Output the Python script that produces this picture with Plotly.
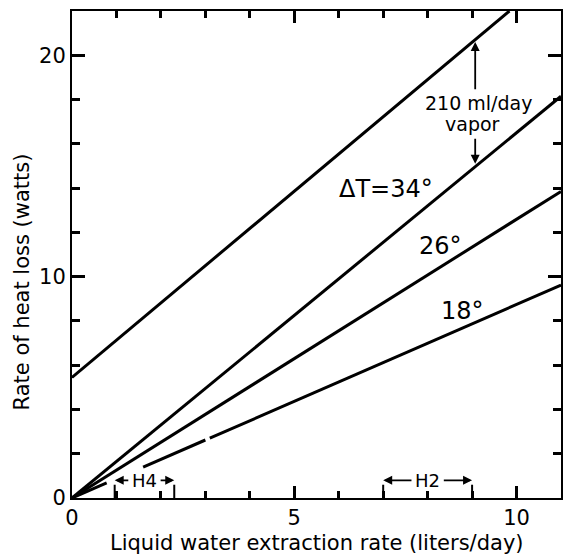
import plotly.graph_objects as go

# Liquid water extraction rate (liters/day)
x_34 = [0.0, 11.0]
y_34 = [0.0, 18.15]          # ΔT = 34°
x_26 = [0.0, 11.0]
y_26 = [0.0, 13.85]          # ΔT = 26°
x_18 = [0.0, 0.78, None, 1.6, 3.0, None, 3.1, 11.0]
y_18 = [0.0, 0.68, None, 1.40, 2.62, None, 2.70, 9.62]   # ΔT = 18°
x_vap = [0.0, 9.84]
y_vap = [5.45, 22.0]         # ΔT = 34° plus 210 ml/day vapor

# vapor-gap arrow
vap_arrow_x = 9.07
vap_arrow_top = [18.4, 20.6]
vap_arrow_bot = [16.3, 15.1]

# operating ranges for H4 and H2
h4_range = [0.96, 2.3]
h2_range = [7.0, 9.0]
range_y = 0.8
range_mark_h = 0.6

x_tick_vals = [0, 5, 10]
x_tick_text = ["0", "5", "10"]
y_tick_vals = [0, 10, 20]
y_tick_text = ["0", "10", "20"]

FONT = "DejaVu Sans"
line_style = dict(color="black", width=3)

fig = go.Figure()
for xs, ys in [(x_vap, y_vap), (x_34, y_34), (x_26, y_26), (x_18, y_18)]:
    fig.add_trace(go.Scatter(x=xs, y=ys, mode="lines", line=line_style,
                             showlegend=False, hoverinfo="skip", connectgaps=False))

# range end marks
mx, my = [], []
for r in (h4_range, h2_range):
    for v in r:
        mx += [v, v, None]
        my += [0, range_mark_h, None]
fig.add_trace(go.Scatter(x=mx, y=my, mode="lines", line=dict(color="black", width=2),
                         showlegend=False, hoverinfo="skip"))

# invisible trace that carries the top/right tick axes
fig.add_trace(go.Scatter(x=[0], y=[0], xaxis="x2", yaxis="y2", mode="markers",
                         marker=dict(opacity=0), showlegend=False, hoverinfo="skip"))

ann = []
txt = dict(font=dict(family=FONT, size=24, color="black"), showarrow=False,
           xref="x", yref="y")
ann.append(dict(x=7.06, y=13.95, text="ΔT=34°", **txt))
ann.append(dict(x=8.28, y=11.4, text="26°", **txt))
ann.append(dict(x=8.79, y=8.47, text="18°", **txt))
small = dict(font=dict(family=FONT, size=19, color="black"), showarrow=False,
             xref="x", yref="y")
ann.append(dict(x=9.14, y=17.83, text="210 ml/day", **small))
ann.append(dict(x=9.02, y=16.9, text="vapor", **small))

arr = dict(xref="x", yref="y", axref="x", ayref="y", showarrow=True, text="",
           arrowhead=2, arrowsize=1, arrowwidth=1.8, arrowcolor="black")
ann.append(dict(x=vap_arrow_x, y=vap_arrow_top[1], ax=vap_arrow_x, ay=vap_arrow_top[0], **arr))
ann.append(dict(x=vap_arrow_x, y=vap_arrow_bot[1], ax=vap_arrow_x, ay=vap_arrow_bot[0], **arr))

for label, r in (("H4", h4_range), ("H2", h2_range)):
    mid = (r[0] + r[1]) / 2
    half = 0.33
    ann.append(dict(x=mid, y=range_y, text=label, showarrow=False,
                    xref="x", yref="y", font=dict(family=FONT, size=18, color="black")))
    ann.append(dict(x=r[0], y=range_y, ax=mid - half, ay=range_y, **arr))
    ann.append(dict(x=r[1], y=range_y, ax=mid + half, ay=range_y, **arr))

# axis titles
ann.append(dict(x=0.5, y=-0.092, xref="paper", yref="paper", showarrow=False,
                text="Liquid water extraction rate (liters/day)", yanchor="middle",
                font=dict(family=FONT, size=21, color="black")))
ann.append(dict(x=-0.102, y=0.443, xref="paper", yref="paper", showarrow=False,
                text="Rate of heat loss (watts)", textangle=-90, xanchor="center",
                font=dict(family=FONT, size=21, color="black")))

axis_common = dict(showline=True, linecolor="black", linewidth=2, mirror=False,
                   ticks="inside", tickcolor="black", tickwidth=2.5, showgrid=False,
                   zeroline=False, tickfont=dict(family=FONT, size=21, color="black"))
x_minor = dict(dtick=1, ticks="inside", ticklen=7, tickcolor="black", tickwidth=2.5)
y_minor = dict(dtick=2, ticks="inside", ticklen=8, tickcolor="black", tickwidth=2.5)

fig.update_layout(
    width=564, height=558,
    margin=dict(l=72, r=3, t=11, b=60),
    plot_bgcolor="white", paper_bgcolor="white",
    annotations=ann,
    xaxis=dict(range=[0, 11], tickvals=x_tick_vals, ticktext=x_tick_text, ticklen=12,
               minor=x_minor, **axis_common),
    yaxis=dict(range=[0, 22], tickvals=y_tick_vals, ticktext=y_tick_text, ticklen=13,
               minor=y_minor, **axis_common),
    xaxis2=dict(range=[0, 11], overlaying="x", side="top", anchor="y", tickvals=x_tick_vals,
                ticklen=12, showticklabels=False, minor=x_minor, **axis_common),
    yaxis2=dict(range=[0, 22], overlaying="y", side="right", anchor="x", tickvals=y_tick_vals,
                ticklen=13, showticklabels=False, minor=y_minor, **axis_common),
)

fig.write_html("out.html")
